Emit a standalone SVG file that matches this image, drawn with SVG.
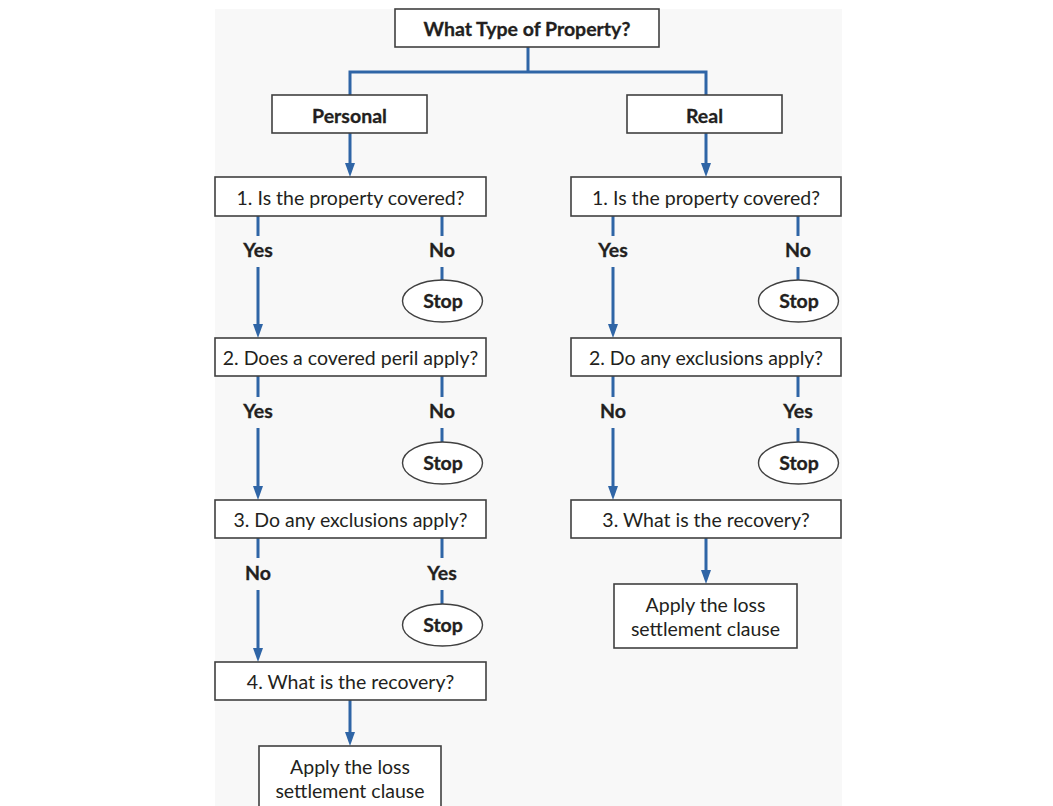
<svg xmlns="http://www.w3.org/2000/svg" width="1053" height="806" viewBox="0 0 1053 806">
<defs>
<marker id="ah" viewBox="0 0 14 10" refX="4" refY="5" markerWidth="14" markerHeight="10" markerUnits="userSpaceOnUse" orient="auto"><path d="M0,0 L14,5 L0,10 Z" fill="#2f65a6"/></marker>
<style>
.box{fill:#ffffff;stroke:#404040;stroke-width:1.6}
.stop{fill:#ffffff;stroke:#404040;stroke-width:1.4}
.c{fill:none;stroke:#2f65a6;stroke-width:3}
.a{marker-end:url(#ah)}
.t{font-family:Lato,"Open Sans",sans-serif;font-size:19.5px;fill:#231f20;text-anchor:middle}
.b{font-family:Lato,"Open Sans",sans-serif;font-size:19.5px;font-weight:bold;fill:#231f20;stroke:#231f20;stroke-width:0.3;text-anchor:middle}
</style>
</defs>
<rect x="0" y="0" width="1053" height="806" fill="#ffffff"/>
<rect x="215" y="9" width="627" height="797" fill="#f8f8f8"/>
<g id="connectors">
<path class="c" d="M528,47 V72 M350,72 H706 M350,70.5 V95 M706,70.5 V95"/>
<path class="c a" d="M350,133 V167"/>
<path class="c a" d="M706,133 V167"/>
<path class="c" d="M258,216 V236 M442,216 V236 M442,267 V280"/>
<path class="c a" d="M258,267 V328"/>
<path class="c" d="M613,216 V236 M798,216 V236 M798,267 V280"/>
<path class="c a" d="M613,267 V328"/>
<path class="c" d="M258,376 V397 M442,376 V397 M442,428 V442"/>
<path class="c a" d="M258,428 V490"/>
<path class="c" d="M613,376 V397 M798,376 V397 M798,428 V442"/>
<path class="c a" d="M613,428 V490"/>
<path class="c" d="M258,538 V558 M442,538 V558 M442,590 V604"/>
<path class="c a" d="M258,590 V652"/>
<path class="c a" d="M706,538 V574"/>
<path class="c a" d="M350,700 V736"/>
</g>
<g id="n-top"><rect class="box" x="395" y="9" width="264" height="38"/><text class="b" x="527" y="35.5">What Type of Property?</text></g>
<g id="n-personal"><rect class="box" x="272" y="95" width="155" height="38"/><text class="b" x="349.5" y="122.5">Personal</text></g>
<g id="n-real"><rect class="box" x="627" y="95" width="155" height="38"/><text class="b" x="704.5" y="122.5">Real</text></g>
<g id="n-p1"><rect class="box" x="215" y="177" width="271" height="39"/><text class="t" x="350.5" y="204.5">1. Is the property covered?</text></g>
<g id="n-r1"><rect class="box" x="571" y="177" width="270" height="39"/><text class="t" x="706" y="204.5">1. Is the property covered?</text></g>
<g id="n-p2"><rect class="box" x="215" y="338" width="271" height="38"/><text class="t" x="350.5" y="365">2. Does a covered peril apply?</text></g>
<g id="n-r2"><rect class="box" x="571" y="338" width="270" height="38"/><text class="t" x="706" y="365">2. Do any exclusions apply?</text></g>
<g id="n-p3"><rect class="box" x="215" y="500" width="271" height="38"/><text class="t" x="350.5" y="527">3. Do any exclusions apply?</text></g>
<g id="n-r3"><rect class="box" x="571" y="500" width="270" height="38"/><text class="t" x="706" y="527">3. What is the recovery?</text></g>
<g id="n-p4"><rect class="box" x="215" y="662" width="271" height="38"/><text class="t" x="350.5" y="689">4. What is the recovery?</text></g>
<g id="n-pf"><rect class="box" x="259" y="746" width="182" height="70"/><text class="t" x="350" y="774">Apply the loss</text><text class="t" x="350" y="798">settlement clause</text></g>
<g id="n-rf"><rect class="box" x="614" y="584" width="183" height="64"/><text class="t" x="705.5" y="612">Apply the loss</text><text class="t" x="705.5" y="636">settlement clause</text></g>
<g id="labels">
<text class="b" x="258" y="257">Yes</text><text class="b" x="442" y="257">No</text>
<text class="b" x="613" y="257">Yes</text><text class="b" x="798" y="257">No</text>
<text class="b" x="258" y="418">Yes</text><text class="b" x="442" y="418">No</text>
<text class="b" x="613" y="418">No</text><text class="b" x="798" y="418">Yes</text>
<text class="b" x="258" y="580">No</text><text class="b" x="442" y="580">Yes</text>
</g>
<g id="n-stop1"><ellipse class="stop" cx="442.5" cy="301" rx="40" ry="21"/><text class="b" x="443" y="308">Stop</text></g>
<g id="n-stop2"><ellipse class="stop" cx="798.5" cy="301" rx="40" ry="21"/><text class="b" x="799" y="308">Stop</text></g>
<g id="n-stop3"><ellipse class="stop" cx="442.5" cy="463" rx="40" ry="21"/><text class="b" x="443" y="470">Stop</text></g>
<g id="n-stop4"><ellipse class="stop" cx="798.5" cy="463" rx="40" ry="21"/><text class="b" x="799" y="470">Stop</text></g>
<g id="n-stop5"><ellipse class="stop" cx="442.5" cy="625" rx="40" ry="21"/><text class="b" x="443" y="632">Stop</text></g>
</svg>
